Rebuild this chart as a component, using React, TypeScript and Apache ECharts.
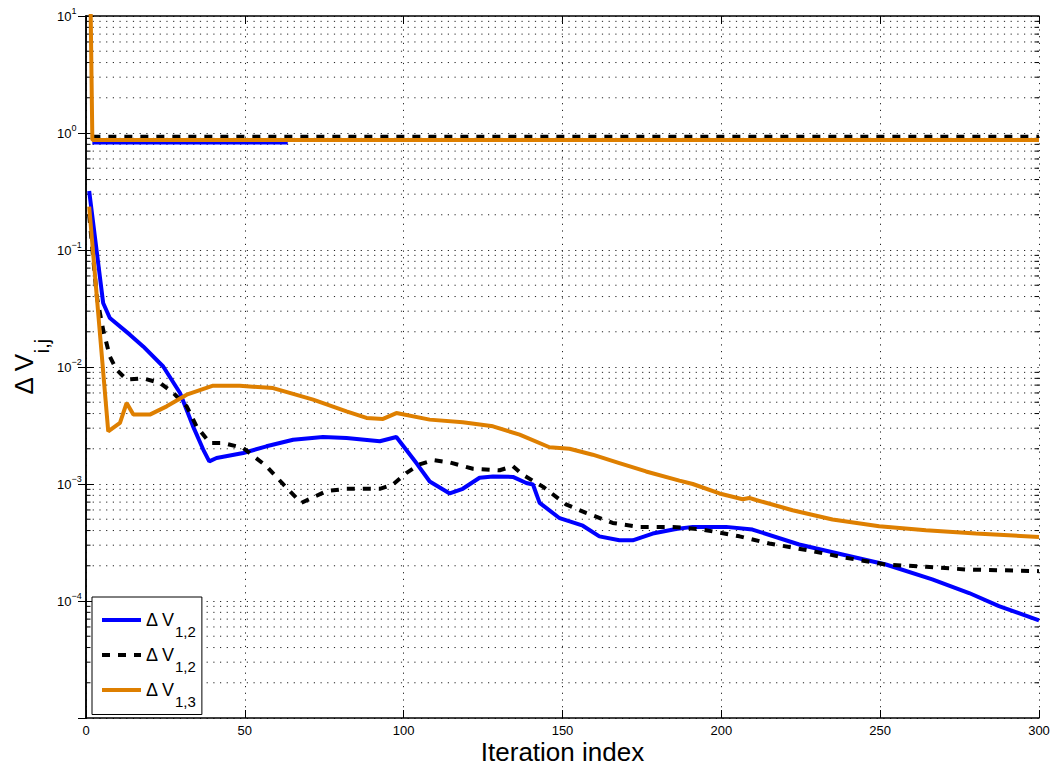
import React, { useEffect, useRef } from 'react';
import * as echarts from 'echarts';

const FONT = '"Liberation Sans", Arial, Helvetica, sans-serif';

// Iteration index (x) and ΔV values (y)
const blueX = [1, 5.4, 7.5, 13.8, 18, 24.3, 29.6, 33.7, 36.9, 38.8, 41.1, 49.5, 56.8, 65.2, 74.6, 82, 92.5, 97.7, 104, 108.2, 114.5, 118.6, 123.9, 128.1, 134.4, 138.6, 140.7, 142.8, 149.1, 156.4, 161.6, 167.9, 172.1, 178.4, 185.7, 191, 201.5, 209.8, 224.5, 238.1, 251.8, 266.4, 278, 287.4, 300];
const blueY = [0.32, 0.0352, 0.0262, 0.0189, 0.015, 0.0101, 0.006, 0.00311, 0.00197, 0.00156, 0.00167, 0.00184, 0.0021, 0.00239, 0.00252, 0.00247, 0.00232, 0.00252, 0.00151, 0.00105, 0.00083, 0.00091, 0.00113, 0.00116, 0.00115, 0.00102, 0.00099, 0.00069, 0.00051, 0.00044, 0.000357, 0.00033, 0.00033, 0.000377, 0.000413, 0.00043, 0.00043, 0.000408, 0.000304, 0.00025, 0.000205, 0.000153, 0.000117, 0.0000904, 0.0000682];

const dashX = [1, 3.4, 5.4, 7.5, 9.6, 12.8, 18, 23.3, 27.5, 31.7, 34.8, 39, 43.2, 49.5, 56.8, 63.1, 67.8, 75.7, 82, 92.5, 96.6, 100.8, 105, 109.2, 114.5, 121.8, 130.2, 134.4, 137.5, 143.8, 151.1, 157.4, 165.8, 174.2, 184.7, 194.1, 205.7, 215.1, 227.7, 239.2, 251.8, 264.4, 277, 300];
const dashY = [0.2, 0.04, 0.0208, 0.0123, 0.0095, 0.0078, 0.008, 0.0073, 0.006, 0.00461, 0.00311, 0.00224, 0.00224, 0.00203, 0.00142, 0.00093, 0.00069, 0.00087, 0.00091, 0.00091, 0.00099, 0.00124, 0.00147, 0.0016, 0.00153, 0.00135, 0.00131, 0.00142, 0.0012, 0.00095, 0.00067, 0.000566, 0.000465, 0.00043, 0.00043, 0.000408, 0.000357, 0.00031, 0.00027, 0.000234, 0.000205, 0.000196, 0.000186, 0.00018];

const orangeX = [1, 7, 10.7, 12.8, 14.9, 20.1, 25.4, 31.7, 40, 48.4, 58.9, 71.5, 82, 88.3, 93.5, 97.7, 108.2, 118.6, 128.1, 136.5, 145.9, 152.2, 159.5, 167.9, 176.3, 186.8, 191, 199.4, 206.7, 208.8, 210.9, 222.4, 235, 249.7, 264.4, 280.1, 300];
const orangeY = [0.235, 0.00282, 0.00333, 0.00493, 0.00392, 0.00392, 0.00461, 0.0058, 0.00692, 0.0069, 0.0066, 0.00526, 0.00418, 0.00367, 0.0036, 0.00404, 0.00355, 0.00337, 0.00311, 0.00264, 0.00206, 0.002, 0.00178, 0.00151, 0.00128, 0.00107, 0.001, 0.00083, 0.00074, 0.00076, 0.00073, 0.000597, 0.000497, 0.000435, 0.000403, 0.000377, 0.000353];

// upper (near 1) traces
const blueTopX = [2, 63.5];
const blueTopY = [0.828, 0.828];
const dashTopX = [2, 300];
const dashTopY = [0.927, 0.927];
const orangeTopX = [1, 2, 300];
const orangeTopY = [100, 0.873, 0.873];

const xTicks = { min: 0, max: 300, interval: 50 };
const yRange = { min: 1e-5, max: 10 };
const decades = [-5, -4, -3, -2, -1, 0];
const minorMultipliers = [2, 3, 4, 5, 6, 7, 8, 9];

const legendNames = ['dv12a', 'dv12b', 'dv13'];
const legendSubs: Record<string, string> = { dv12a: '1,2', dv12b: '1,2', dv13: '1,3' };

const BLUE = '#0000FF';
const BLACK = '#000000';
const ORANGE = '#DE7F00';

const pairs = (xs: number[], ys: number[]) => xs.map((x, i) => [x, ys[i]]);

const minorValues: number[] = [];
decades.forEach((d) => minorMultipliers.forEach((m) => minorValues.push(Number((m * Math.pow(10, d)).toPrecision(3)))));

const DOT: number[] = [1.2, 5.5];
const GRID_COLOR = '#222';

function buildOption(): any {
  const lineSeries = (name: string, data: number[][], color: string, dashed: boolean) => ({
    name,
    type: 'line',
    data,
    symbol: 'none',
    showSymbol: false,
    clip: true,
    z: 3,
    lineStyle: { color, width: 4, type: dashed ? [8, 8] : 'solid', cap: 'butt' },
    itemStyle: { color },
  });

  const axisCommon = {
    axisLine: { show: true, lineStyle: { color: '#000', width: 1.5 } },
    axisTick: { show: true, inside: true, length: 8, lineStyle: { color: '#000', width: 1 } },
  };

  return {
    animation: false,
    backgroundColor: '#fff',
    textStyle: { fontFamily: FONT },
    grid: { left: 86, right: 11, top: 16, bottom: 49, containLabel: false, outerBoundsMode: 'none' },
    legend: {
      data: legendNames,
      orient: 'vertical',
      left: 92,
      top: 597,
      selectedMode: false,
      backgroundColor: '#fff',
      borderColor: '#000',
      borderWidth: 1,
      borderRadius: 0,
      padding: [14, 6, 6, 8],
      itemWidth: 39,
      itemHeight: 14,
      itemGap: 7.5,
      itemStyle: { color: 'transparent', borderColor: 'transparent', borderWidth: 0, opacity: 0 },
      lineStyle: { width: 4 },
      formatter: (name: string) => `{a|Δ V}{b|${legendSubs[name]}}`,
      textStyle: {
        color: '#000',
        fontFamily: FONT,
        rich: {
          a: { fontSize: 18, color: '#000', fontFamily: FONT },
          b: { fontSize: 15, color: '#000', fontFamily: FONT, padding: [22, 0, 0, 0] },
        },
      },
    },
    xAxis: [
      {
        type: 'value',
        position: 'bottom',
        ...xTicks,
        ...axisCommon,
        axisLabel: { show: true, fontSize: 13, color: '#000', margin: 6, fontFamily: FONT },
        splitLine: { show: true, lineStyle: { color: GRID_COLOR, width: 1, type: DOT } },
        name: 'Iteration index',
        nameLocation: 'middle',
        nameMoveOverlap: false,
        nameGap: 21,
        nameTextStyle: { fontSize: 26, lineHeight: 26, color: '#000', fontFamily: FONT },
      },
      {
        type: 'value',
        position: 'top',
        ...xTicks,
        ...axisCommon,
        axisLabel: { show: false },
        splitLine: { show: false },
      },
    ],
    yAxis: [
      {
        type: 'log',
        logBase: 10,
        position: 'left',
        ...yRange,
        ...axisCommon,
        axisLabel: {
          show: true,
          showMinLabel: false,
          margin: 29,
          align: 'left',
          color: '#000',
          formatter: (v: number) => {
            const e = Math.round(Math.log10(v));
            return `{b|10}{s|${e < 0 ? '−' + -e : e}}`;
          },
          rich: {
            b: { fontSize: 13, color: '#000', fontFamily: FONT },
            s: { fontSize: 9, color: '#000', fontFamily: FONT, padding: [0, 0, 10, 0] },
          },
        },
        minorTick: { show: false },
        splitLine: { show: true, lineStyle: { color: GRID_COLOR, width: 1, type: DOT } },
        name: '{a|Δ V}{b|i,j}',
        nameLocation: 'middle',
        nameRotate: 90,
        nameMoveOverlap: false,
        nameGap: 34,
        nameTextStyle: {
          color: '#000',
          rich: {
            a: { fontSize: 26, color: '#000', fontFamily: FONT },
            b: { fontSize: 20, color: '#000', fontFamily: FONT, padding: [36, 0, 0, 0] },
          },
        },
      },
      {
        type: 'log',
        logBase: 10,
        position: 'right',
        ...yRange,
        ...axisCommon,
        axisLabel: { show: false },
        splitLine: { show: false },
      },
    ],
    series: [
      {
        name: 'minorGrid',
        type: 'custom',
        silent: true,
        z: 1,
        xAxisIndex: 0,
        yAxisIndex: 0,
        data: minorValues.map((v) => [0, v]),
        renderItem: (params: any, api: any) => {
          const cs = params.coordSys;
          const y = api.coord([0, api.value(1)])[1];
          return {
            type: 'group',
            children: [
              { type: 'line', shape: { x1: cs.x, y1: y, x2: cs.x + cs.width, y2: y }, style: { stroke: GRID_COLOR, lineWidth: 1, lineDash: DOT } },
              { type: 'line', shape: { x1: cs.x, y1: y, x2: cs.x + 4.5, y2: y }, style: { stroke: '#000', lineWidth: 1 } },
              { type: 'line', shape: { x1: cs.x + cs.width - 4.5, y1: y, x2: cs.x + cs.width, y2: y }, style: { stroke: '#000', lineWidth: 1 } },
            ],
          };
        },
      },
      lineSeries('dv12a', pairs(blueX, blueY), BLUE, false),
      lineSeries('top12a', pairs(blueTopX, blueTopY), BLUE, false),
      lineSeries('dv12b', pairs(dashX, dashY), BLACK, true),
      lineSeries('top12b', pairs(dashTopX, dashTopY), BLACK, true),
      lineSeries('dv13', pairs(orangeX, orangeY), ORANGE, false),
      lineSeries('top13', pairs(orangeTopX, orangeTopY), ORANGE, false),
    ],
  };
}

export default function App() {
  const ref = useRef<HTMLDivElement>(null);
  useEffect(() => {
    if (!ref.current) return;
    const chart = echarts.init(ref.current, null, { renderer: 'svg' });
    chart.setOption(buildOption());
    return () => chart.dispose();
  }, []);
  return (
    <div
      ref={ref}
      style={{ position: 'fixed', left: 0, top: 0, width: 1050, height: 767, background: '#fff' }}
    />
  );
}
